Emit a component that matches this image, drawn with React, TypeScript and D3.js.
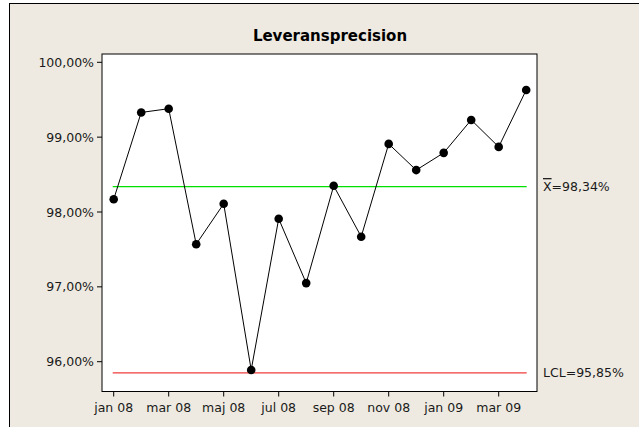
import React from 'react';
import * as d3 from 'd3';

const months = [
  'jan 08', 'feb 08', 'mar 08', 'apr 08', 'maj 08', 'jun 08', 'jul 08', 'aug 08',
  'sep 08', 'okt 08', 'nov 08', 'dec 08', 'jan 09', 'feb 09', 'mar 09', 'apr 09',
];
const precision = [
  98.17, 99.33, 99.38, 97.57, 98.11, 95.89, 97.91, 97.05,
  98.35, 97.67, 98.91, 98.56, 98.79, 99.23, 98.87, 99.63,
];
const yTicks = [96, 97, 98, 99, 100];
const mean = 98.34;
const lcl = 95.85;

const W = 639;
const H = 427;
const plot = { left: 102, top: 54, right: 537, bottom: 391.5 };
const font = 'Tahoma, "DejaVu Sans", sans-serif';

export default function App() {
  const x = d3
    .scaleLinear()
    .domain([0, months.length - 1])
    .range([113.7, 526.2]);
  const y = d3.scaleLinear().domain([96, 100]).range([361.7, 62.3]);

  const line = d3
    .line<number>()
    .x((d, i) => x(i))
    .y((d) => y(d));

  const fmt = (v: number) => v.toFixed(2).replace('.', ',') + '%';

  return (
    <svg
      width={W}
      height={H}
      style={{ position: 'absolute', left: 0, top: 0, display: 'block' }}
    >
      <rect x={0} y={0} width={W} height={H} fill="#fff" />
      <rect x={9.5} y={3.5} width={W + 10} height={H + 10} fill="#eeeae1" stroke="#000" strokeWidth={1} />
      <text
        x={330}
        y={40.5}
        textAnchor="middle"
        fontFamily={font}
        fontWeight="bold"
        fontSize={15}
        fill="#000"
      >
        Leveransprecision
      </text>
      <rect
        x={plot.left}
        y={plot.top}
        width={plot.right - plot.left}
        height={plot.bottom - plot.top}
        fill="#fff"
        stroke="#000"
        strokeWidth={1}
      />
      {yTicks.map((t) => (
        <g key={t}>
          <line x1={97} x2={plot.left} y1={y(t)} y2={y(t)} stroke="#000" />
          <text
            x={94}
            y={y(t) + 4.5}
            textAnchor="end"
            fontFamily={font}
            fontSize={12.5}
            fill="#1a1a1a"
          >
            {fmt(t)}
          </text>
        </g>
      ))}
      {months.map((m, i) =>
        i % 2 === 0 ? (
          <g key={m}>
            <line x1={x(i)} x2={x(i)} y1={plot.bottom} y2={plot.bottom + 5} stroke="#000" />
            <text
              x={x(i)}
              y={412}
              textAnchor="middle"
              fontFamily={font}
              fontSize={12.5}
              fill="#1a1a1a"
            >
              {m}
            </text>
          </g>
        ) : null
      )}
      <line x1={x(0) - 1} x2={x(months.length - 1) + 0.5} y1={y(mean)} y2={y(mean)} stroke="#00e000" strokeWidth={1.3} />
      <line x1={x(0) - 1} x2={x(months.length - 1) + 0.5} y1={y(lcl)} y2={y(lcl)} stroke="#f03c3c" strokeWidth={1.3} />
      <path d={line(precision) ?? ''} fill="none" stroke="#000" strokeWidth={1} />
      {precision.map((v, i) => (
        <circle key={i} cx={x(i)} cy={y(v)} r={4.3} fill="#000" />
      ))}
      <text x={543} y={y(mean) + 4.5} fontFamily={font} fontSize={12.5} fill="#1a1a1a">
        <tspan style={{ textDecoration: 'overline' }}>X</tspan>
        {'=' + fmt(mean)}
      </text>
      <text x={543} y={y(lcl) + 4.5} fontFamily={font} fontSize={12.5} fill="#1a1a1a">
        {'LCL=' + fmt(lcl)}
      </text>
    </svg>
  );
}
